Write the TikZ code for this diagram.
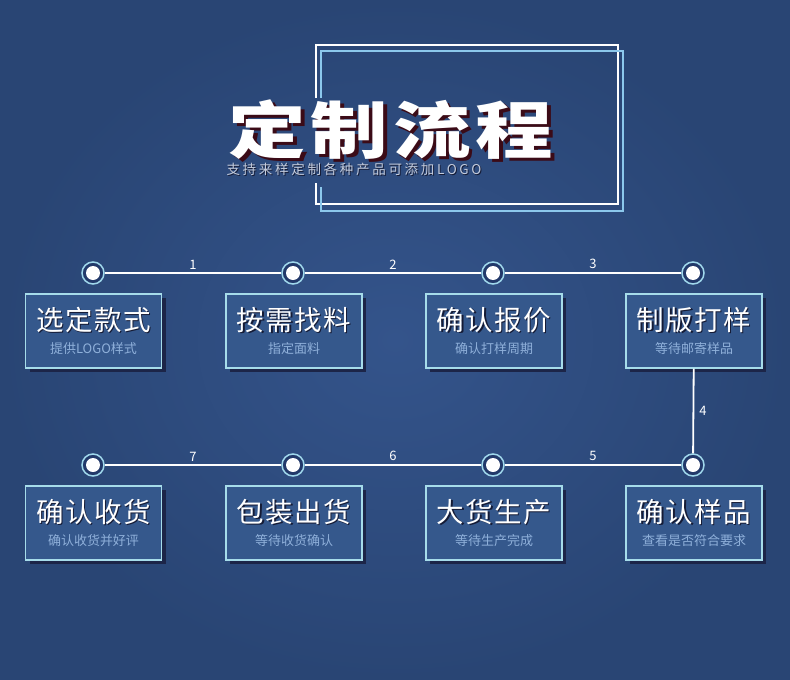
\documentclass[tikz,border=0pt]{standalone}
\usepackage{fontspec}
\setmainfont{Noto Sans CJK SC}
\newfontfamily\titlefont{Noto Sans CJK SC}[FakeStretch=1.25]
\usetikzlibrary{shadows}

\definecolor{bgin}{HTML}{34548B}
\definecolor{bgout}{HTML}{294574}
\definecolor{boxfill}{HTML}{35588C}
\definecolor{boxline}{HTML}{A6DCEA}
\definecolor{boxshadow}{HTML}{1C2548}
\definecolor{ringc}{HTML}{A0D8EC}
\definecolor{dotfill}{HTML}{22396A}
\definecolor{subtxt}{HTML}{8FB0DA}
\definecolor{subhead}{HTML}{C4CCDC}
\definecolor{txtshadow}{HTML}{151B35}
\definecolor{titleshadow}{HTML}{3B0B17}
\definecolor{framec}{HTML}{8CC8EC}

% text with a dark copy behind it
\newcommand{\dropped}[3]{\makebox[0pt][l]{\raisebox{-#2}{\hspace{#2}\textcolor{#1}{#3}}}#3}
\newcommand{\steptext}[2]{{\fontsize{27.5}{30}\selectfont\addfontfeature{LetterSpace=5}\dropped{txtshadow}{1.3pt}{#1}}\\{\color{subtxt}#2}}

\tikzset{
	stepbox/.style={draw=boxline, line width=1.2pt, fill=boxfill, text=white,
		minimum width=136pt, minimum height=74pt, inner sep=0pt, align=center,
		font=\fontsize{13}{23}\selectfont,
		drop shadow={shadow xshift=4pt, shadow yshift=-4pt, fill=boxshadow, opacity=1}},
	dot/.style={circle, draw=ringc, line width=1.5pt, fill=dotfill, minimum size=22pt, inner sep=0pt,
		path picture={\fill[white] (path picture bounding box.center) circle (7pt);}},
	link/.style={white, line width=1.8pt},
	num/.style={white, font=\fontsize{13}{13}\selectfont, inner sep=1pt},
}

\begin{document}
\begin{tikzpicture}[x=1pt, y=-1pt]
	\useasboundingbox (0,0) rectangle (790,680);
	\shade [inner color=bgin, outer color=bgout] (0,0) rectangle (790,680);

	% heading
	\draw [white, line width=1.3pt] (316,98) -- (316,45) -- (618,45) -- (618,204) -- (316,204) -- (316,183);
	\draw [framec, line width=1.3pt] (321,98) -- (321,51) -- (623,51) -- (623,211) -- (321,211) -- (321,187);
	\node (title) [text=white, font=\titlefont\bfseries\fontsize{62}{62}\selectfont\addfontfeature{LetterSpace=8}] at (391,131) {\dropped{titleshadow}{3.5pt}{定制流程}};
	\node (subtitle) [anchor=west, text=subhead, font=\fontsize{13.5}{14}\selectfont\addfontfeature{LetterSpace=20}] at (223,170) {\dropped{txtshadow}{1pt}{支持来样定制各种产品可添加LOGO}};

	% steps
	\node (s1) [stepbox] at (93.5,331) {\steptext{选定款式}{提供LOGO样式}};
	\node (s2) [stepbox] at (294,331) {\steptext{按需找料}{指定面料}};
	\node (s3) [stepbox] at (494,331) {\steptext{确认报价}{确认打样周期}};
	\node (s4) [stepbox] at (694,331) {\steptext{制版打样}{等待邮寄样品}};
	\node (s5) [stepbox] at (694,523) {\steptext{确认样品}{查看是否符合要求}};
	\node (s6) [stepbox] at (494,523) {\steptext{大货生产}{等待生产完成}};
	\node (s7) [stepbox] at (294,523) {\steptext{包装出货}{等待收货确认}};
	\node (s8) [stepbox] at (93.5,523) {\steptext{确认收货}{确认收货并好评}};

	\node (c1) [dot] at (93,273) {};
	\node (c2) [dot] at (293,273) {};
	\node (c3) [dot] at (493,273) {};
	\node (c4) [dot] at (693,273) {};
	\node (c5) [dot] at (693,465) {};
	\node (c6) [dot] at (493,465) {};
	\node (c7) [dot] at (293,465) {};
	\node (c8) [dot] at (93,465) {};

	\draw [link] (c1) -- node[num, above=2pt] {1} (c2);
	\draw [link] (c2) -- node[num, above=2pt] {2} (c3);
	\draw [link] (c3) -- node[num, above=2pt] {3} (c4);
	\draw [link] (s4) -- node[num, right=4pt] {4} (c5);
	\draw [link] (c5) -- node[num, above=2pt] {5} (c6);
	\draw [link] (c6) -- node[num, above=2pt] {6} (c7);
	\draw [link] (c7) -- node[num, above=2pt] {7} (c8);
\end{tikzpicture}
\end{document}
